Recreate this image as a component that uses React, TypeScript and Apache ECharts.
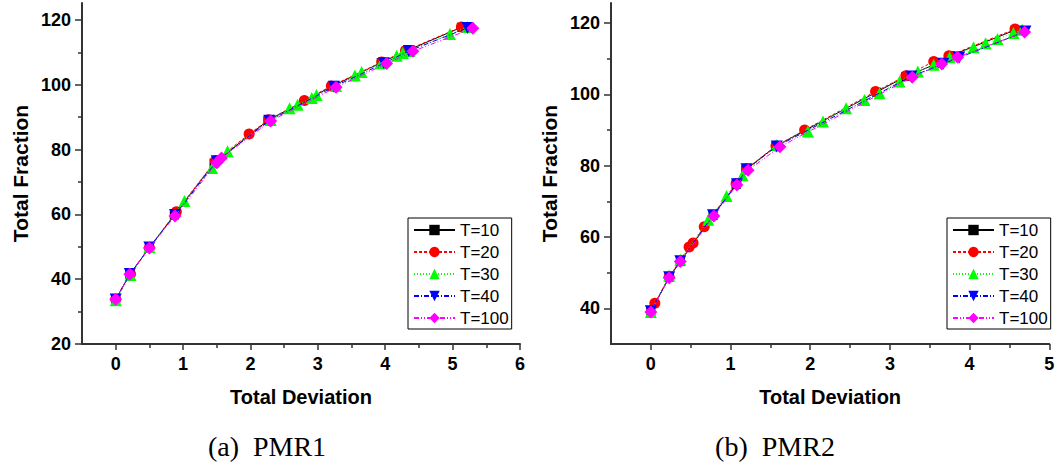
import React, { useEffect, useRef } from "react";
import * as echarts from "echarts";

// ---------- data ----------
const seriesNames = ["T=10", "T=20", "T=30", "T=40", "T=100"];

// PMR1 (left chart): [Total Deviation, Total Fraction]
const pmr1_T10 = [[0, 33.8], [0.21, 41.5], [0.5, 49.7], [0.87, 59.8], [1.46, 75.8], [2.26, 89.0], [3.21, 99.5], [3.94, 106.8], [4.3, 110.3], [5.13, 117.7]];
const pmr1_T20 = [[0, 33.8], [0.22, 41.6], [0.5, 49.7], [0.9, 60.8], [1.48, 76.5], [1.98, 84.8], [2.27, 89.2], [2.8, 95.1], [3.2, 99.6], [3.95, 107.0], [4.3, 110.5], [5.13, 117.8]];
const pmr1_T30 = [[0, 33.5], [0.22, 41.3], [0.5, 49.9], [1.02, 64.1], [1.43, 74.3], [1.66, 79.5], [2.3, 89.1], [2.58, 92.7], [2.7, 93.8], [2.91, 95.9], [2.98, 96.8], [3.27, 99.6], [3.55, 102.8], [3.65, 103.9], [3.94, 106.6], [4.17, 108.9], [4.26, 109.8], [4.36, 110.4], [4.96, 115.6], [5.22, 117.8]];
const pmr1_T40 = [[0, 33.7], [0.21, 41.6], [0.5, 49.8], [0.88, 59.8], [1.5, 76.4], [2.28, 88.9], [3.24, 99.4], [3.98, 106.6], [4.35, 110.4], [5.22, 117.5]];
const pmr1_T100 = [[0, 33.8], [0.21, 41.5], [0.5, 49.6], [0.88, 59.5], [1.5, 75.9], [1.57, 77.4], [2.3, 88.8], [3.27, 99.2], [4.02, 106.5], [4.41, 110.3], [5.3, 117.4]];

// PMR2 (right chart)
const pmr2_T10 = [[0, 39.1], [0.23, 48.7], [0.37, 53.1], [0.78, 66.0], [1.07, 74.7], [1.19, 78.8], [1.57, 85.5], [2.83, 100.6], [3.2, 105.0], [3.6, 108.7], [3.76, 110.8], [4.57, 118.0]];
const pmr2_T20 = [[0.05, 41.4], [0.23, 48.8], [0.48, 57.2], [0.53, 58.3], [0.67, 62.9], [1.07, 75.0], [1.2, 79.1], [1.57, 85.5], [1.93, 90.0], [2.82, 100.8], [3.2, 105.2], [3.55, 109.2], [3.74, 110.8], [4.57, 118.3]];
const pmr2_T30 = [[0, 39.0], [0.23, 49.2], [0.37, 53.6], [0.72, 64.8], [0.95, 71.5], [1.15, 77.3], [1.58, 85.8], [1.97, 89.6], [2.16, 92.4], [2.45, 96.1], [2.68, 98.4], [2.87, 100.3], [3.12, 103.6], [3.35, 106.4], [3.55, 108.3], [3.75, 110.4], [4.05, 113.2], [4.2, 114.3], [4.35, 115.5], [4.55, 117.2], [4.66, 118.1]];
const pmr2_T40 = [[0, 39.2], [0.23, 48.7], [0.37, 53.2], [0.78, 66.1], [1.08, 74.8], [1.2, 79.0], [1.58, 85.4], [3.27, 105.0], [3.67, 108.6], [3.87, 110.3], [4.7, 117.6]];
const pmr2_T100 = [[0, 39.0], [0.23, 48.6], [0.37, 53.1], [0.79, 65.9], [1.08, 74.6], [1.22, 78.7], [1.62, 85.3], [3.28, 104.8], [3.65, 108.5], [3.85, 110.4], [4.69, 117.5]];

// axis ticks
const pmr1_xMajor = [0, 1, 2, 3, 4, 5, 6];
const pmr1_xMinor = [0.5, 1.5, 2.5, 3.5, 4.5, 5.5];
const pmr1_yMajor = [20, 40, 60, 80, 100, 120];
const pmr1_yMinor = [30, 50, 70, 90, 110];
const pmr2_xMajor = [0, 1, 2, 3, 4, 5];
const pmr2_xMinor = [0.5, 1.5, 2.5, 3.5, 4.5];
const pmr2_yMajor = [40, 60, 80, 100, 120];
const pmr2_yMinor = [50, 70, 90, 110];

const captions = ["(a)  PMR1", "(b)  PMR2"];
const xTitle = "Total Deviation";
const yTitle = "Total Fraction";

// ---------- styles ----------
const FONT = "'Liberation Sans', Arial, sans-serif";
const SERIF = "'Liberation Serif', 'DejaVu Serif', serif";
const AXIS_COLOR = "#333";
const seriesStyles = [
  { color: "#000000", symbol: "rect", size: 9, rotate: 0, dash: "solid" as any },
  { color: "#ff0000", symbol: "circle", size: 11, rotate: 0, dash: [3, 2] },
  { color: "#00ff00", symbol: "triangle", size: 12, rotate: 0, dash: [1, 2] },
  { color: "#0000ff", symbol: "triangle", size: 12, rotate: 180, dash: [5, 2, 1, 2] },
  { color: "#ff00ff", symbol: "diamond", size: 13, rotate: 0, dash: [5, 2, 1, 2, 1, 2] },
];

const pmr1Data = [pmr1_T10, pmr1_T20, pmr1_T30, pmr1_T40, pmr1_T100];
const pmr2Data = [pmr2_T10, pmr2_T20, pmr2_T30, pmr2_T40, pmr2_T100];

function mainX(grid: number, min: number, max: number, major: number[], nameGap: number) {
  return {
    type: "value", gridIndex: grid, min, max, position: "bottom",
    name: xTitle, nameLocation: "middle", nameGap,
    nameTextStyle: { fontFamily: FONT, fontWeight: "bold", fontSize: 20, color: "#000" },
    axisLine: { show: true, onZero: false, lineStyle: { color: AXIS_COLOR, width: 2 } },
    axisTick: { show: true, customValues: major, length: 6, lineStyle: { color: AXIS_COLOR, width: 1.5 } },
    axisLabel: { show: true, customValues: major, margin: 11, fontFamily: FONT, fontWeight: "bold", fontSize: 18, color: "#000" },
    splitLine: { show: false },
  };
}
function minorX(grid: number, min: number, max: number, minor: number[]) {
  return {
    type: "value", gridIndex: grid, min, max, position: "bottom",
    axisLine: { show: false, onZero: false },
    axisTick: { show: true, customValues: minor, length: 4, lineStyle: { color: AXIS_COLOR, width: 1.5 } },
    axisLabel: { show: false },
    splitLine: { show: false },
  };
}
function mainY(grid: number, min: number, max: number, major: number[], nameGap: number) {
  return {
    type: "value", gridIndex: grid, min, max, position: "left",
    name: yTitle, nameLocation: "middle", nameGap, nameRotate: 90,
    nameTextStyle: { fontFamily: FONT, fontWeight: "bold", fontSize: 21, color: "#000" },
    axisLine: { show: true, onZero: false, lineStyle: { color: AXIS_COLOR, width: 2 } },
    axisTick: { show: true, customValues: major, length: 7, lineStyle: { color: AXIS_COLOR, width: 1.5 } },
    axisLabel: { show: true, customValues: major, margin: 11, fontFamily: FONT, fontWeight: "bold", fontSize: 18, color: "#000" },
    splitLine: { show: false },
  };
}
function minorY(grid: number, min: number, max: number, minor: number[]) {
  return {
    type: "value", gridIndex: grid, min, max, position: "left",
    axisLine: { show: false, onZero: false },
    axisTick: { show: true, customValues: minor, length: 4, lineStyle: { color: AXIS_COLOR, width: 1.5 } },
    axisLabel: { show: false },
    splitLine: { show: false },
  };
}

function makeSeries(data: number[][][], axisIdx: number) {
  return data.map((d, i) => {
    const s = seriesStyles[i];
    return {
      type: "line", name: seriesNames[i], data: d,
      xAxisIndex: axisIdx, yAxisIndex: axisIdx,
      symbol: s.symbol, symbolSize: s.size, symbolRotate: s.rotate,
      showAllSymbol: true,
      lineStyle: { color: s.color, width: 1, type: s.dash },
      itemStyle: { color: s.color },
      z: 2 + i,
    };
  });
}

function makeLegend(left: number) {
  return {
    orient: "vertical", left, top: 218,
    data: seriesNames,
    itemWidth: 41, itemHeight: 13, itemGap: 4,
    padding: [3, 3, 2, 5],
    borderColor: "#000", borderWidth: 1, backgroundColor: "#fff",
    selectedMode: false,
    textStyle: { fontFamily: FONT, fontSize: 17, color: "#000", lineHeight: 18 },
  };
}

export default function App() {
  const ref = useRef<HTMLDivElement>(null);
  useEffect(() => {
    if (!ref.current) return;
    const chart = echarts.init(ref.current, undefined, { renderer: "svg" });
    const option: any = {
      animation: false,
      backgroundColor: "#fff",
      grid: [
        { left: 82, top: 3, width: 438, height: 341, containLabel: false },
        { left: 611, top: 3, width: 438.3, height: 341, containLabel: false },
      ],
      xAxis: [
        mainX(0, -0.5, 6, pmr1_xMajor, 43),
        minorX(0, -0.5, 6, pmr1_xMinor),
        mainX(1, -0.5, 5, pmr2_xMajor, 43),
        minorX(1, -0.5, 5, pmr2_xMinor),
      ],
      yAxis: [
        mainY(0, 20, 125.2, pmr1_yMajor, 51),
        minorY(0, 20, 125.2, pmr1_yMinor),
        mainY(1, 30, 125.6, pmr2_yMajor, 51),
        minorY(1, 30, 125.6, pmr2_yMinor),
      ],
      legend: [makeLegend(408), makeLegend(947)],
      series: [...makeSeries(pmr1Data, 0), ...makeSeries(pmr2Data, 2)],
      graphic: [
        {
          type: "text", x: 267, y: 446,
          style: { text: captions[0], fontFamily: SERIF, fontSize: 28, fill: "#000", textAlign: "center", textVerticalAlign: "middle" },
        },
        {
          type: "text", x: 775, y: 446,
          style: { text: captions[1], fontFamily: SERIF, fontSize: 28, fill: "#000", textAlign: "center", textVerticalAlign: "middle" },
        },
      ],
    };
    chart.setOption(option);
    return () => chart.dispose();
  }, []);
  return (
    <div
      ref={ref}
      style={{ position: "fixed", left: 0, top: 0, width: 1062, height: 471, background: "#fff" }}
    />
  );
}
